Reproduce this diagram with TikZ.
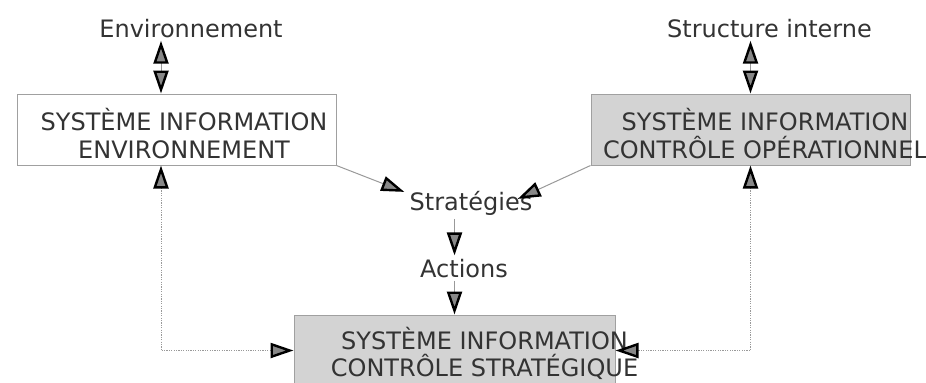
\documentclass[tikz,border=0pt]{standalone}
\usepackage{fontspec}
\setmainfont{DejaVu Sans}
\usepackage{xcolor}
\usepackage{tikz}
\usetikzlibrary{arrows.meta, positioning, calc}
\definecolor{sigray}{HTML}{D3D3D3}
\definecolor{siborder}{HTML}{A0A0A0}
\definecolor{siline}{HTML}{999999}
\definecolor{sitext}{HTML}{333333}
\definecolor{sitip}{HTML}{888888}
\newcommand{\sifont}{\fontsize{12}{13.75}\selectfont}
\tikzset{
  tri/.tip={Triangle[length=11.5pt, width=7.5pt, line width=1.2pt, color=black, fill=sitip]},
  sibox/.style={draw=siborder, line width=0.5pt, minimum width=159.5pt,
    minimum height=35.5pt, inner sep=0pt},
  sitxt/.style={text=sitext, font=\sifont, align=center, anchor=base, inner sep=0pt},
  silabel/.style={text=sitext, font=\sifont, inner sep=1.5pt, anchor=base},
  siflow/.style={draw=siline, line width=0.5pt},
  sifeed/.style={draw=siline, line width=0.5pt, dash pattern=on 0.6pt off 0.6pt}
}

\begin{document}
\begin{tikzpicture}[x=0.5pt, y=-0.5pt]
        \useasboundingbox (0,0) rectangle (926,382);
        % Boxes
        \node[sibox, fill=white,
          label={[sitxt, xshift=3.75pt, yshift=-2pt]center:SYSTÈME INFORMATION\\ENVIRONNEMENT}]
          (sie) at (176.5,129.5) {};
        \node[sibox, fill=sigray,
          label={[sitxt, xshift=7.25pt, yshift=-2pt]center:SYSTÈME INFORMATION\\CONTRÔLE OPÉRATIONNEL}]
          (sico) at (750.5,129.5) {};
        \node[sibox, fill=sigray, minimum width=160.5pt,
          label={[sitxt, xshift=15pt, yshift=-1.5pt]center:SYSTÈME INFORMATION\\CONTRÔLE STRATÉGIQUE}]
          (sics) at (454.5,350.5) {};
        % Labels
        \node[silabel] (env) at (191,37) {Environnement};
        \node[silabel] (struct) at (769.5,37) {Structure interne};
        \node[silabel] (strat) at (471,210.5) {Stratégies};
        \node[silabel] (act) at (464,277) {Actions};
        \coordinate (ecol) at (161,0);
        % Inputs
        \draw[siflow, tri-tri] (env.south -| ecol) -- (sie.north -| ecol);
        \draw[siflow, tri-tri] (struct.south -| sico.north) -- (sico.north);
        % Strategy chain
        \draw[siflow, -tri] (sie.south east) -- ([xshift=-1pt, yshift=-2pt]strat.north west);
        \draw[siflow, -tri] (sico.south west) -- ([xshift=-9pt, yshift=-5.5pt]strat.north east);
        \draw[siflow, -tri] (strat.south -| sics.north) -- (act.north -| sics.north);
        \draw[siflow, -tri] (act.south -| sics.north) -- (sics.north);
        % Feedback
        \draw[sifeed, tri-tri] (sie.south -| ecol) |- (sics.west);
        \draw[sifeed, tri-tri] (sico.south) |- (sics.east);
      \end{tikzpicture}
\end{document}
